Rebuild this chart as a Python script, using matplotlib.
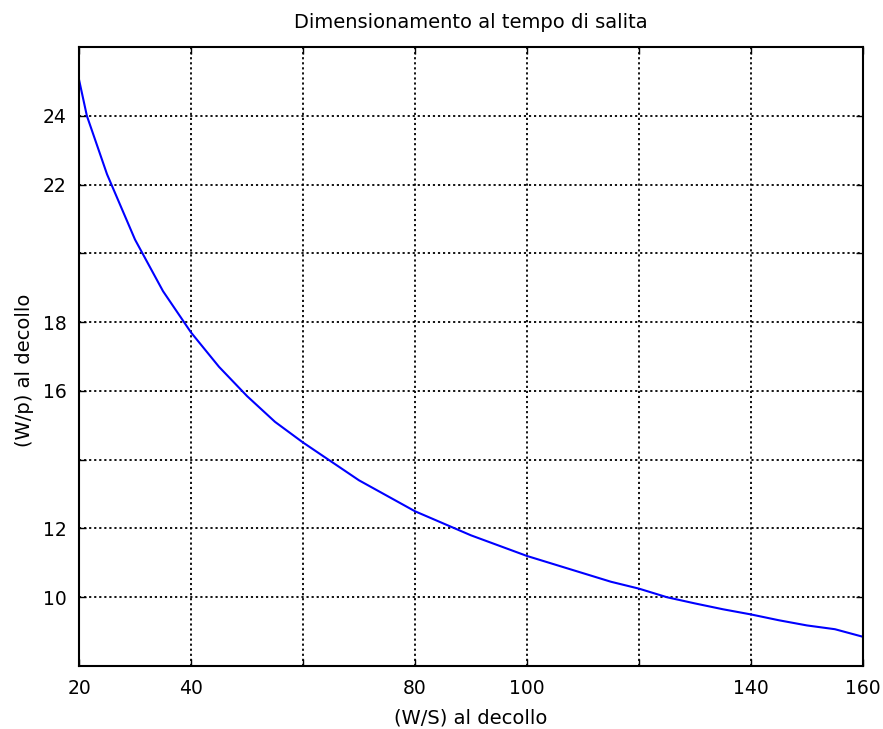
import matplotlib
matplotlib.use("Agg")
import matplotlib.pyplot as plt

# (W/S) al decollo
ws = [20, 21.4, 25, 30, 35, 40, 45, 50, 55, 60, 65, 70, 75, 80, 85, 90,
      95, 100, 105, 110, 115, 120, 125, 130, 135, 140, 145, 150, 155, 160]
# (W/p) al decollo
wp = [25.05, 24.0, 22.3, 20.4, 18.9, 17.7, 16.7, 15.85, 15.1, 14.5, 13.95,
      13.4, 12.95, 12.5, 12.15, 11.8, 11.5, 11.2, 10.95, 10.7, 10.45, 10.25,
      10.0, 9.82, 9.65, 9.5, 9.33, 9.18, 9.07, 8.85]

xticks = [20, 40, 60, 80, 100, 120, 140, 160]
xticklabels = ["20", "40", "", "80", "100", "", "140", "160"]
yticks = [10, 12, 14, 16, 18, 20, 22, 24]
yticklabels = ["10", "12", "", "16", "18", "", "22", "24"]

plt.rcParams['font.family'] = ['DejaVu Sans']

fig = plt.figure(figsize=(8.83, 7.29), dpi=100)
ax = fig.add_axes([0.0895, 0.0864, 0.8878, 0.8491])

ax.plot(ws, wp, color='#0000ff', linewidth=1.5)

ax.set_xlim(20, 160)
ax.set_ylim(8, 26)
ax.set_xticks(xticks)
ax.set_xticklabels(xticklabels)
ax.set_yticks(yticks)
ax.set_yticklabels(yticklabels)

ax.grid(True, color='black', linestyle=(0, (1.2, 1.6)), linewidth=1.3)
ax.tick_params(direction='in', length=5, width=1, top=True, right=True,
               labelsize=13.5, pad=9, colors='black')
for sp in ax.spines.values():
    sp.set_linewidth(1.5)

ax.set_title("Dimensionamento al tempo di salita", fontsize=14, pad=14)
ax.set_xlabel("(W/S) al decollo", fontsize=14, labelpad=8)
ax.set_ylabel("(W/p) al decollo", fontsize=14)
ax.yaxis.set_label_coords(-0.057, 0.478)

fig.savefig("out.png", dpi=100)
